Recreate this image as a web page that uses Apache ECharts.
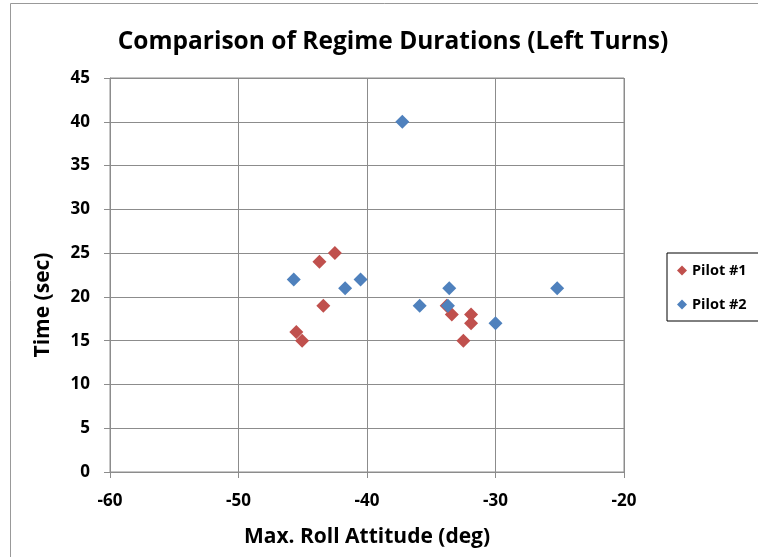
<!DOCTYPE html>
<html><head><meta charset="utf-8">
<script src="https://cdn.jsdelivr.net/npm/echarts@6/dist/echarts.min.js"></script>
<style>html,body{margin:0;padding:0;background:#fff}#c{width:758px;height:557px}</style>
</head><body><div id="c"></div>
<script>
const xTicks = [-60, -50, -40, -30, -20];
const yTicks = [0, 5, 10, 15, 20, 25, 30, 35, 40, 45];
const pilot1Roll = [-42.5, -43.7, -43.4, -45.5, -45.05, -33.8, -33.4, -31.9, -31.9, -32.5];
const pilot1Time = [25, 24, 19, 16, 15, 19, 18, 18, 17, 15];
const pilot2Roll = [-45.7, -37.25, -41.7, -40.5, -35.9, -33.6, -33.7, -30.0, -25.2];
const pilot2Time = [22, 40, 21, 22, 19, 21, 19, 17, 21];

const FONT = '"Open Sans", Lato, sans-serif';
const chart = echarts.init(document.getElementById('c'), null, {renderer: 'canvas'});
const gridC = '#8c8c8c';
chart.setOption({
  animation: false,
  title: {
    text: 'Comparison of Regime Durations (Left Turns)',
    left: 388, top: 25, textAlign: 'center',
    textStyle: {fontFamily: FONT, fontWeight: 'bold', fontSize: 24.5, color: '#000'}
  },
  legend: {
    orient: 'vertical', left: 667, top: 253,
    width: 100,
    padding: [10, 20, 9, 10],
    itemGap: 19,
    itemWidth: 10, itemHeight: 10,
    borderColor: '#000', borderWidth: 1,
    icon: 'diamond',
    textStyle: {fontFamily: FONT, fontWeight: 'bold', fontSize: 14.5, color: '#000', padding: [0, 0, 0, 0]},
    data: ['Pilot #1', 'Pilot #2']
  },
  grid: {left: 110, right: 134, top: 78, bottom: 85, show: true, borderColor: gridC, borderWidth: 1},
  xAxis: {
    type: 'value', min: xTicks[0], max: xTicks[xTicks.length - 1], interval: 10,
    name: 'Max. Roll Attitude (deg)', nameLocation: 'middle', nameGap: 55,
    nameTextStyle: {fontFamily: FONT, fontWeight: 'bold', fontSize: 21, color: '#000'},
    axisLine: {show: true, onZero: false, lineStyle: {color: gridC}},
    axisTick: {show: true, length: 6, inside: false, lineStyle: {color: gridC}},
    splitLine: {show: true, lineStyle: {color: gridC}},
    axisLabel: {fontFamily: FONT, fontWeight: 'bold', fontSize: 17, color: '#000', margin: 21}
  },
  yAxis: {
    type: 'value', min: yTicks[0], max: yTicks[yTicks.length - 1], interval: 5,
    axisLine: {show: true, lineStyle: {color: gridC}},
    axisTick: {show: true, length: 6, lineStyle: {color: gridC}},
    splitLine: {show: true, lineStyle: {color: gridC}},
    axisLabel: {fontFamily: FONT, fontWeight: 'bold', fontSize: 17, color: '#000', margin: 20}
  },
  graphic: [
    {type: 'rect', shape: {x: 10.5, y: 3.5, width: 800, height: 600}, style: {fill: null, stroke: '#999', lineWidth: 1}, silent: true, z: -1},
    {type: 'text', x: 43, y: 305, rotation: Math.PI / 2,
     style: {text: 'Time (sec)', fontFamily: FONT, fontWeight: 'bold', fontSize: 21, fill: '#000', align: 'center', verticalAlign: 'middle'}}
  ],
  series: [
    {name: 'Pilot #1', type: 'scatter', symbol: 'diamond', symbolSize: 14,
     itemStyle: {color: '#C0504D', opacity: 1}, data: pilot1Roll.map((v, i) => [v, pilot1Time[i]])},
    {name: 'Pilot #2', type: 'scatter', symbol: 'diamond', symbolSize: 14,
     itemStyle: {color: '#4F81BD', opacity: 1}, data: pilot2Roll.map((v, i) => [v, pilot2Time[i]])}
  ]
});
</script></body></html>
